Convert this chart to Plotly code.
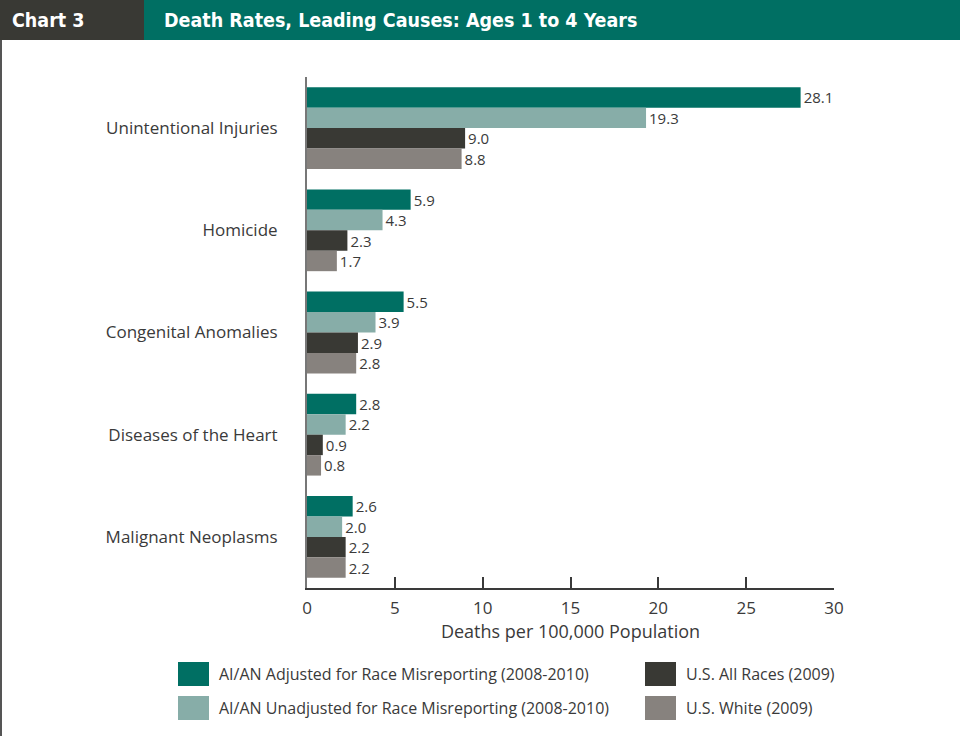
import plotly.graph_objects as go

categories = ["Unintentional Injuries", "Homicide", "Congenital Anomalies",
              "Diseases of the Heart", "Malignant Neoplasms"]
series_names = ["AI/AN Adjusted for Race Misreporting (2008-2010)",
                "AI/AN Unadjusted for Race Misreporting (2008-2010)",
                "U.S. All Races (2009)",
                "U.S. White (2009)"]
adjusted = [28.1, 5.9, 5.5, 2.8, 2.6]
unadjusted = [19.3, 4.3, 3.9, 2.2, 2.0]
all_races = [9.0, 2.3, 2.9, 0.9, 2.2]
white = [8.8, 1.7, 2.8, 0.8, 2.2]
x_ticks = [0, 5, 10, 15, 20, 25, 30]

colors = ["#006f63", "#87ada8", "#393934", "#87827e"]
series_values = [adjusted, unadjusted, all_races, white]

FONT = "Open Sans, Noto Sans, sans-serif"
HFONT = "Liberation Sans Narrow, DejaVu Sans Condensed, Roboto, sans-serif"
fig = go.Figure()
for name, vals, col in zip(series_names, series_values, colors):
    fig.add_trace(go.Bar(
        y=categories, x=vals, name=name, orientation="h",
        marker=dict(color=col, line=dict(width=0)),
        text=[f"{v:.1f}" for v in vals], textposition="outside",
        textfont=dict(size=15, color="#3a3a3a", family=FONT),
        cliponaxis=False, showlegend=False,
    ))

fig.update_layout(
    width=960, height=736,
    margin=dict(l=307, r=126, t=77, b=148),
    paper_bgcolor="white", plot_bgcolor="white",
    barmode="group", bargap=0.2, bargroupgap=0,
    font=dict(family=FONT, color="#3a3a3a"),
    xaxis=dict(range=[0, 30], tickvals=x_ticks, ticks="inside", ticklen=11,
               tickwidth=1.5, tickcolor="#3a3a3a", showline=True,
               linecolor="#3a3a3a", linewidth=1.5, showgrid=False, zeroline=False,
               tickfont=dict(size=17, color="#3a3a3a"), ticklabelstandoff=4,
               title=dict(text="Deaths per 100,000 Population",
                          font=dict(size=18, color="#3a3a3a"), standoff=7)),
    yaxis=dict(autorange="reversed", showline=True, linecolor="#777777",
               linewidth=2, showgrid=False, ticks="", ticklabelstandoff=24,
               tickfont=dict(size=17, color="#3a3a3a")),
)

# header
fig.add_shape(type="rect", xref="paper", yref="paper",
              x0=-307/527, x1=-163/527, y0=1+77/511, y1=1+37/511,
              fillcolor="#393934", line_width=0, layer="above")
fig.add_shape(type="rect", xref="paper", yref="paper",
              x0=-163/527, x1=1+126/527, y0=1+77/511, y1=1+37/511,
              fillcolor="#006f63", line_width=0, layer="above")
fig.add_annotation(xref="paper", yref="paper", x=-297/527, y=1+57/511,
                   text="Chart 3", showarrow=False, xanchor="left", yanchor="middle",
                   font=dict(family=HFONT, size=19.5, color="white", weight="bold"))
fig.add_annotation(xref="paper", yref="paper", x=-145/527, y=1+57/511,
                   text="Death Rates, Leading Causes: Ages 1 to 4 Years", showarrow=False,
                   xanchor="left", yanchor="middle",
                   font=dict(family=HFONT, size=19.5, color="white", weight="bold"))
# left border
fig.add_shape(type="line", xref="paper", yref="paper",
              x0=-306/527, x1=-306/527, y0=1+37/511, y1=-148/511,
              line=dict(color="#555555", width=2))

# manual legend
def px_x(p):
    return (p - 307) / 527

def px_y(p):
    return (588 - p) / 511

legend_pos = [(178, 674), (178, 708), (645, 674), (645, 708)]
for (lx, ly), name, col in zip(legend_pos, series_names, colors):
    fig.add_shape(type="rect", xref="paper", yref="paper",
                  x0=px_x(lx), x1=px_x(lx + 31), y0=px_y(ly - 12), y1=px_y(ly + 12),
                  fillcolor=col, line_width=0)
    fig.add_annotation(xref="paper", yref="paper", x=px_x(lx + 39), y=px_y(ly),
                       text=name, showarrow=False, xanchor="left", yanchor="middle",
                       font=dict(size=16, color="#3a3a3a"))

fig.write_html("out.html", config={"displayModeBar": False},
               post_script="document.body.style.margin='0';document.body.style.overflow='hidden';")
